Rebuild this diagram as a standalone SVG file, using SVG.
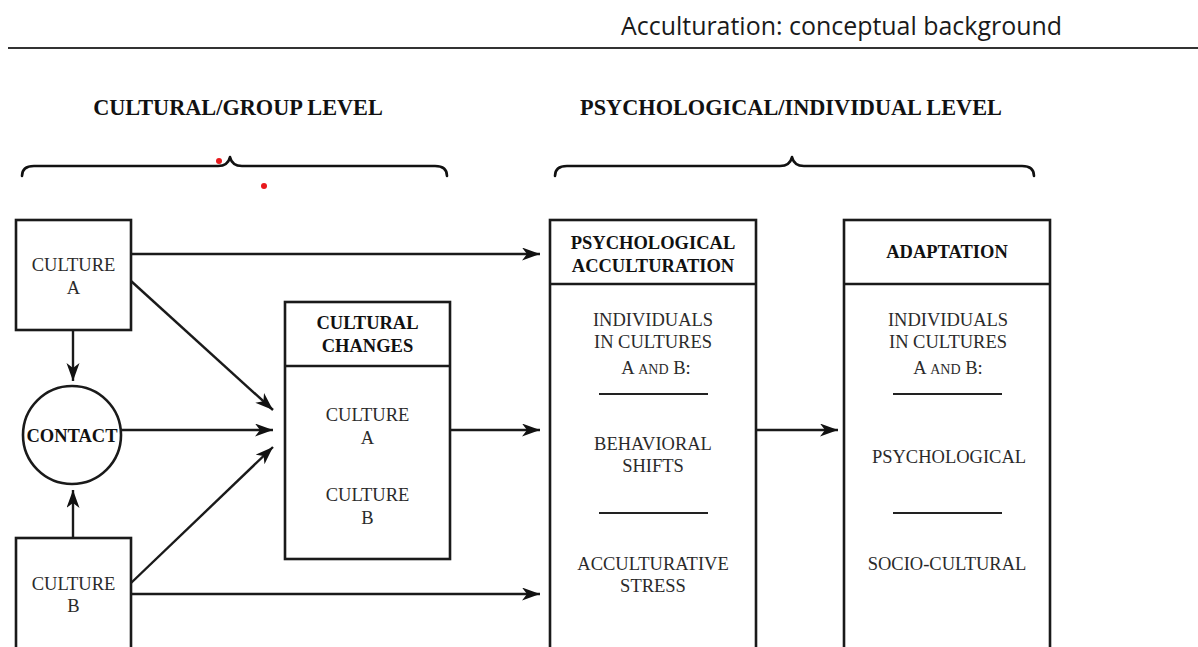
<svg xmlns="http://www.w3.org/2000/svg" width="1198" height="647" viewBox="0 0 1198 647">
<style>
.box{fill:#fff;stroke:#1a1a1a;stroke-width:2.6}
.div{stroke:#1a1a1a;stroke-width:2.6}
.sep{stroke:#222;stroke-width:2.2}
.t{font-family:"Liberation Serif","Times New Roman",serif;font-size:18.5px;fill:#2a2a2a;text-anchor:middle}
.b{font-family:"Liberation Serif","Times New Roman",serif;font-size:18.5px;font-weight:bold;fill:#111;text-anchor:middle}
.h{font-family:"Liberation Serif","Times New Roman",serif;font-size:22.3px;font-weight:bold;fill:#111;text-anchor:middle}
.sc{font-size:14px}
.conn line{stroke:#1a1a1a;stroke-width:2.4;marker-end:url(#ah)}
.brace{fill:none;stroke:#111;stroke-width:2.6;stroke-linecap:round;stroke-linejoin:round}
</style>
<defs>
<marker id="ah" markerUnits="userSpaceOnUse" markerWidth="20" markerHeight="14" refX="18" refY="6.5" orient="auto">
<path d="M0,0 L18,6.5 L0,13 L5,6.5 Z" fill="#111"/>
</marker>
</defs>
<rect width="1198" height="647" fill="#fff"/>
<g id="title">
<text x="621" y="35" font-family="'Open Sans','Noto Sans','Liberation Sans',sans-serif" font-size="25" fill="#1a1a1a" textLength="441" lengthAdjust="spacingAndGlyphs">Acculturation: conceptual background</text>
<line x1="8" y1="48" x2="1198" y2="48" stroke="#333" stroke-width="2"/>
</g>
<g id="header-group">
<text class="h" x="238" y="115">CULTURAL/GROUP LEVEL</text>
<path class="brace" d="M22,176 Q22,166 34,166 L218,166 Q228,166 230,157 Q232,166 242,166 L435,166 Q447,166 447,176"/>
</g>
<g id="header-individual">
<text class="h" x="791" y="115">PSYCHOLOGICAL/INDIVIDUAL LEVEL</text>
<path class="brace" d="M555,176 Q555,166 567,166 L780,166 Q790,166 792,157 Q794,166 804,166 L1022,166 Q1034,166 1034,176"/>
</g>
<g id="marks">
<circle cx="219" cy="161" r="3" fill="#e8191c"/>
<circle cx="264" cy="186" r="3" fill="#e8191c"/>
</g>
<g id="culture-a">
<rect class="box" x="16" y="220" width="115" height="110"/>
<text class="t" x="73.5" y="271">CULTURE</text>
<text class="t" x="73.5" y="294">A</text>
</g>
<g id="contact">
<circle class="box" cx="72" cy="435" r="49"/>
<text class="b" x="72" y="441.5">CONTACT</text>
</g>
<g id="culture-b">
<rect class="box" x="16" y="538" width="115" height="120"/>
<text class="t" x="73.5" y="589.5">CULTURE</text>
<text class="t" x="73.5" y="611.5">B</text>
</g>
<g id="cultural-changes">
<rect class="box" x="285" y="302" width="165" height="257"/>
<line class="div" x1="285" y1="366" x2="450" y2="366"/>
<text class="b" x="367.5" y="328.5">CULTURAL</text>
<text class="b" x="367.5" y="351.5">CHANGES</text>
<text class="t" x="367.5" y="420.5">CULTURE</text>
<text class="t" x="367.5" y="443.5">A</text>
<text class="t" x="367.5" y="500.5">CULTURE</text>
<text class="t" x="367.5" y="523.5">B</text>
</g>
<g id="psychological-acculturation">
<rect class="box" x="550" y="220" width="206" height="440"/>
<line class="div" x1="550" y1="284" x2="756" y2="284"/>
<text class="b" x="653" y="248.5">PSYCHOLOGICAL</text>
<text class="b" x="653" y="271.5">ACCULTURATION</text>
<text class="t" x="653" y="325.5">INDIVIDUALS</text>
<text class="t" x="653" y="347.5">IN CULTURES</text>
<text class="t" x="656" y="373.5">A <tspan class="sc">AND</tspan> B:</text>
<line class="sep" x1="599" y1="394" x2="708" y2="394"/>
<text class="t" x="653" y="449.5">BEHAVIORAL</text>
<text class="t" x="653" y="471.5">SHIFTS</text>
<line class="sep" x1="599" y1="513" x2="708" y2="513"/>
<text class="t" x="653" y="569.5">ACCULTURATIVE</text>
<text class="t" x="653" y="591.5">STRESS</text>
</g>
<g id="adaptation">
<rect class="box" x="844" y="220" width="206" height="440"/>
<line class="div" x1="844" y1="284" x2="1050" y2="284"/>
<text class="b" x="947" y="257.5">ADAPTATION</text>
<text class="t" x="948" y="325.5">INDIVIDUALS</text>
<text class="t" x="948" y="347.5">IN CULTURES</text>
<text class="t" x="948" y="373.5">A <tspan class="sc">AND</tspan> B:</text>
<line class="sep" x1="893" y1="394" x2="1002" y2="394"/>
<text class="t" x="949" y="462.5">PSYCHOLOGICAL</text>
<line class="sep" x1="893" y1="513" x2="1002" y2="513"/>
<text class="t" x="947" y="569.5">SOCIO-CULTURAL</text>
</g>
<g id="connectors" class="conn">
<line x1="131" y1="254" x2="540" y2="254"/>
<line x1="131" y1="281" x2="273" y2="410"/>
<line x1="121" y1="430" x2="273" y2="430"/>
<line x1="131" y1="583" x2="273" y2="447"/>
<line x1="131" y1="594" x2="540" y2="594"/>
<line x1="73" y1="331" x2="73" y2="381"/>
<line x1="73" y1="538" x2="73" y2="490"/>
<line x1="450" y1="430" x2="540" y2="430"/>
<line x1="756" y1="430" x2="838" y2="430"/>
</g>
</svg>
